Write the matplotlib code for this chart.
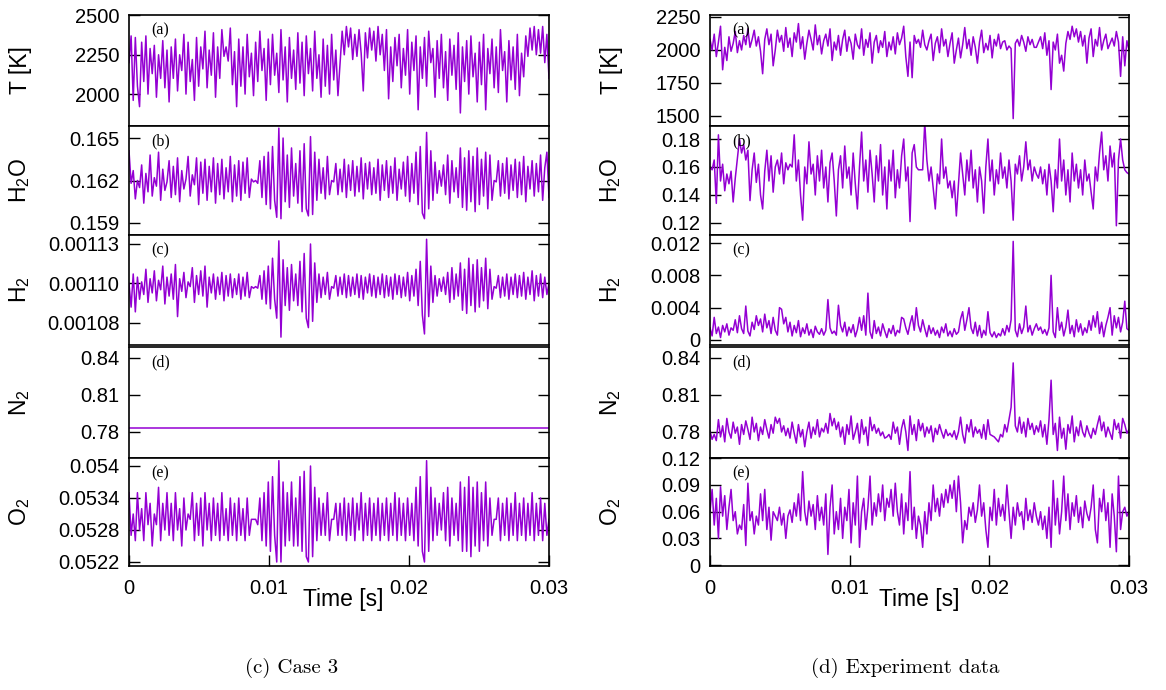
import numpy as np
import matplotlib
matplotlib.use('Agg')
import matplotlib.pyplot as plt

plt.rcParams['font.family'] = 'Liberation Sans'
plt.rcParams['mathtext.fontset'] = 'custom'
plt.rcParams['mathtext.rm'] = 'Liberation Sans'
plt.rcParams['mathtext.it'] = 'Liberation Sans:italic'

# ---- (c) Case 3 : simulation ----
T_case = [
    2200, 2370, 1960, 2360, 2050, 1920, 2330, 2080, 2370, 2000, 2290, 2130, 2310, 1980, 2250, 2100, 2340, 2040, 2280, 1950,
    2300, 2100, 2350, 2020, 2250, 2150, 2380, 2000, 2330, 2080, 2220, 1960, 2360, 2050, 2300, 2160, 2400, 2040, 2280, 2120,
    2390, 1980, 2300, 2100, 2410, 2240, 2300, 2210, 2420, 2060, 2270, 1920, 2350, 2050, 2300, 2000, 2380, 2110, 2260, 1990,
    2330, 2080, 2400, 2150, 2290, 1960, 2350, 2060, 2380, 2120, 2260, 2010, 2410, 2090, 2300, 1950, 2360, 2100, 2280, 2030,
    2390, 2070, 2330, 1990, 2370, 2130, 2290, 2020, 2400, 2100, 2250, 1980, 2350, 2050, 2310, 2000, 2380, 2090, 2280, 1990,
    2200, 2400, 2250, 2430, 2300, 2420, 2220, 2380, 2240, 2410, 2260, 2020, 2390, 2230, 2420, 2280, 2400, 2210, 2430, 2250,
    2380, 2150, 2410, 1970, 2300, 2080, 2360, 2180, 2380, 2040, 2290, 2120, 2410, 2000, 2330, 2150, 2370, 1900, 2300, 2100,
    2360, 2050, 2400, 2200, 2290, 1980, 2340, 2100, 2380, 2040, 2270, 1960, 2350, 2120, 2310, 2030, 2390, 1880, 2300, 2080,
    2340, 2000, 2370, 2110, 2260, 1950, 2330, 2060, 2380, 1900, 2290, 2130, 2350, 2040, 2300, 2010, 2410, 2150, 2270, 1950,
    2340, 2090, 2300, 2030, 2380, 1990, 2260, 2110, 2370, 2240, 2420, 2280, 2430, 2250, 2410, 2260, 2430, 2200, 2380, 2100,
]
h2o_case = [
    0.1641, 0.1618, 0.1627, 0.1607, 0.1620, 0.1615, 0.1631, 0.1604, 0.1625, 0.1612, 0.1638, 0.1609, 0.1622, 0.1616, 0.1640, 0.1606, 0.1628, 0.1613, 0.1619, 0.1634,
    0.1608, 0.1630, 0.1610, 0.1636, 0.1605, 0.1627, 0.1614, 0.1621, 0.1637, 0.1609, 0.1624, 0.1617, 0.1636, 0.1603, 0.1633, 0.1611, 0.1635, 0.1606, 0.1630, 0.1612,
    0.1636, 0.1604, 0.1632, 0.1610, 0.1635, 0.1607, 0.1629, 0.1612, 0.1637, 0.1605, 0.1631, 0.1609, 0.1634, 0.1606, 0.1633, 0.1611, 0.1636, 0.1608, 0.1621, 0.1619,
    0.1620, 0.1618, 0.1634, 0.1608, 0.1637, 0.1603, 0.1640, 0.1600, 0.1644, 0.1606, 0.1594, 0.1657, 0.1593, 0.1650, 0.1605, 0.1638, 0.1601, 0.1643, 0.1609, 0.1632,
    0.1604, 0.1641, 0.1598, 0.1646, 0.1600, 0.1595, 0.1651, 0.1596, 0.1640, 0.1606, 0.1635, 0.1611, 0.1629, 0.1607, 0.1637, 0.1610, 0.1620, 0.1619, 0.1632, 0.1610,
    0.1628, 0.1612, 0.1635, 0.1608, 0.1631, 0.1613, 0.1634, 0.1609, 0.1630, 0.1612, 0.1636, 0.1607, 0.1632, 0.1614, 0.1633, 0.1610, 0.1629, 0.1611, 0.1635, 0.1606,
    0.1631, 0.1613, 0.1634, 0.1608, 0.1630, 0.1611, 0.1636, 0.1606, 0.1628, 0.1614, 0.1633, 0.1609, 0.1637, 0.1605, 0.1632, 0.1611, 0.1640, 0.1603, 0.1644, 0.1597,
    0.1593, 0.1654, 0.1600, 0.1641, 0.1606, 0.1633, 0.1611, 0.1627, 0.1616, 0.1631, 0.1610, 0.1638, 0.1604, 0.1634, 0.1612, 0.1629, 0.1608, 0.1643, 0.1601, 0.1636,
    0.1599, 0.1641, 0.1605, 0.1637, 0.1598, 0.1643, 0.1603, 0.1635, 0.1609, 0.1640, 0.1600, 0.1638, 0.1606, 0.1620, 0.1619, 0.1634, 0.1609, 0.1632, 0.1611, 0.1636,
    0.1607, 0.1631, 0.1613, 0.1635, 0.1608, 0.1633, 0.1610, 0.1637, 0.1605, 0.1630, 0.1614, 0.1634, 0.1609, 0.1632, 0.1612, 0.1638, 0.1606, 0.1629, 0.1640, 0.1608,
]
h2_case = [
    0.001100, 0.001085, 0.001106, 0.001082, 0.001104, 0.001090, 0.001101, 0.001093, 0.001109, 0.001088, 0.001103, 0.001094, 0.001108, 0.001089, 0.001102, 0.001096, 0.001111, 0.001087, 0.001104, 0.001092,
    0.001106, 0.001090, 0.001112, 0.001079, 0.001103, 0.001095, 0.001107, 0.001091, 0.001101, 0.001098, 0.001110, 0.001088, 0.001105, 0.001093, 0.001108, 0.001092, 0.001111, 0.001085, 0.001104, 0.001094,
    0.001106, 0.001090, 0.001104, 0.001093, 0.001107, 0.001089, 0.001105, 0.001092, 0.001106, 0.001091, 0.001103, 0.001093, 0.001106, 0.001090, 0.001104, 0.001092, 0.001107, 0.001091, 0.001098, 0.001097,
    0.001098, 0.001097, 0.001105, 0.001090, 0.001108, 0.001087, 0.001111, 0.001084, 0.001116, 0.001090, 0.001078, 0.001127, 0.001066, 0.001115, 0.001086, 0.001110, 0.001083, 0.001112, 0.001089, 0.001106,
    0.001086, 0.001114, 0.001082, 0.001119, 0.001078, 0.001072, 0.001125, 0.001076, 0.001113, 0.001088, 0.001106, 0.001091, 0.001104, 0.001093, 0.001107, 0.001090, 0.001098, 0.001097, 0.001105, 0.001092,
    0.001104, 0.001093, 0.001106, 0.001091, 0.001105, 0.001092, 0.001104, 0.001093, 0.001106, 0.001091, 0.001105, 0.001090, 0.001104, 0.001094, 0.001106, 0.001092, 0.001105, 0.001091, 0.001104, 0.001093,
    0.001106, 0.001091, 0.001105, 0.001092, 0.001104, 0.001090, 0.001106, 0.001093, 0.001105, 0.001091, 0.001104, 0.001092, 0.001107, 0.001089, 0.001105, 0.001092, 0.001109, 0.001086, 0.001114, 0.001080,
    0.001068, 0.001128, 0.001079, 0.001111, 0.001088, 0.001105, 0.001092, 0.001103, 0.001095, 0.001104, 0.001093, 0.001107, 0.001088, 0.001110, 0.001090, 0.001106, 0.001092, 0.001113, 0.001083, 0.001109,
    0.001081, 0.001116, 0.001086, 0.001112, 0.001082, 0.001115, 0.001085, 0.001110, 0.001089, 0.001116, 0.001084, 0.001109, 0.001090, 0.001098, 0.001097, 0.001105, 0.001091, 0.001104, 0.001092, 0.001106,
    0.001090, 0.001104, 0.001093, 0.001106, 0.001091, 0.001105, 0.001092, 0.001107, 0.001090, 0.001104, 0.001093, 0.001108, 0.001089, 0.001105, 0.001092, 0.001106, 0.001091, 0.001104, 0.001093, 0.001100,
]
n2_case = [0.7832, 0.7832]
o2_case = [
    0.0535, 0.0527, 0.0531, 0.0526, 0.0535, 0.0528, 0.0532, 0.0526, 0.0535, 0.0529, 0.0533, 0.0525, 0.0531, 0.0529, 0.0536, 0.0526, 0.0533, 0.0528, 0.0535, 0.0527,
    0.0533, 0.0526, 0.0535, 0.0528, 0.0532, 0.0525, 0.0534, 0.0528, 0.0531, 0.0530, 0.0535, 0.0526, 0.0533, 0.0527, 0.0534, 0.0525, 0.0535, 0.0528, 0.0533, 0.0526,
    0.0534, 0.0527, 0.0533, 0.0526, 0.0535, 0.0527, 0.0532, 0.0526, 0.0534, 0.0527, 0.0533, 0.0526, 0.0534, 0.0527, 0.0532, 0.0526, 0.0534, 0.0527, 0.0530, 0.0530,
    0.0530, 0.0529, 0.0534, 0.0526, 0.0535, 0.0525, 0.0537, 0.0524, 0.0538, 0.0527, 0.0522, 0.0541, 0.0522, 0.0537, 0.0525, 0.0535, 0.0526, 0.0537, 0.0525, 0.0534,
    0.0525, 0.0538, 0.0524, 0.0539, 0.0523, 0.0522, 0.0540, 0.0523, 0.0536, 0.0526, 0.0534, 0.0527, 0.0533, 0.0527, 0.0535, 0.0526, 0.0530, 0.0530, 0.0533, 0.0527,
    0.0533, 0.0527, 0.0534, 0.0526, 0.0533, 0.0527, 0.0534, 0.0526, 0.0533, 0.0528, 0.0535, 0.0526, 0.0533, 0.0527, 0.0534, 0.0526, 0.0533, 0.0527, 0.0534, 0.0526,
    0.0533, 0.0527, 0.0534, 0.0526, 0.0533, 0.0527, 0.0535, 0.0526, 0.0534, 0.0527, 0.0533, 0.0526, 0.0534, 0.0527, 0.0533, 0.0526, 0.0536, 0.0525, 0.0538, 0.0524,
    0.0522, 0.0541, 0.0524, 0.0536, 0.0526, 0.0534, 0.0527, 0.0533, 0.0528, 0.0535, 0.0526, 0.0536, 0.0525, 0.0534, 0.0527, 0.0533, 0.0526, 0.0537, 0.0524, 0.0536,
    0.0524, 0.0538, 0.0523, 0.0536, 0.0525, 0.0537, 0.0524, 0.0535, 0.0526, 0.0537, 0.0525, 0.0534, 0.0527, 0.0530, 0.0530, 0.0534, 0.0526, 0.0533, 0.0527, 0.0534,
    0.0526, 0.0533, 0.0527, 0.0535, 0.0526, 0.0533, 0.0527, 0.0534, 0.0526, 0.0533, 0.0527, 0.0535, 0.0526, 0.0533, 0.0527, 0.0534, 0.0526, 0.0533, 0.0527, 0.0530,
]

# ---- (d) Experiment data ----
T_exp = [
    2080, 2000, 2120, 1950, 2060, 2180, 1850, 2020, 1920, 2100, 1990, 2050, 2140, 1980, 2070, 2000, 2110, 2040, 2160, 2020,
    2080, 2150, 2030, 2100, 1990, 1820, 2080, 2160, 2040, 2120, 1880, 2000, 2150, 2060, 2110, 1990, 2170, 2020, 2090, 1950,
    2130, 2060, 2200, 2010, 2100, 1930, 2050, 2150, 2080, 2000, 2190, 2040, 2110, 1970, 2070, 2120, 2030, 2160, 1920, 2060,
    2000, 2110, 1960, 2080, 2150, 1990, 2100, 2050, 1930, 2120, 2040, 2010, 2160, 1960, 2080, 2020, 2130, 1900, 2060, 2110,
    1980, 2070, 2020, 2140, 1950, 2060, 2000, 2100, 1970, 2130, 2040, 2090, 2180, 1950, 1800, 2060, 1790, 2110, 2050, 2080,
    2020, 2150, 2040, 2000, 2070, 2120, 1920, 2050, 2100, 1980, 2160, 2030, 2080, 1950, 2050, 2130, 1900, 2000, 2090, 1940,
    2040, 2170, 2010, 2080, 1960, 2100, 2020, 1900, 2060, 2150, 1980, 2050, 2000, 2110, 1940, 2080, 2030, 2120, 2010, 2060,
    2070, 2000, 2030, 2010, 1480, 2050, 2080, 2030, 2110, 2060, 1990, 2100, 2040, 2080, 2020, 2020, 2060, 2100, 2010, 2130,
    1960, 2070, 1700, 2060, 2000, 2120, 1900, 1960, 1840, 2050, 2140, 2080, 2180, 2100, 2160, 2060, 2140, 2030, 2110, 1900,
    2090, 2160, 1950, 2080, 2030, 2170, 2000, 2070, 2120, 2010, 2050, 2090, 2030, 2140, 2060, 1800, 2100, 1880, 2070, 2000,
]
h2o_exp = [
    0.160, 0.158, 0.165, 0.134, 0.183, 0.150, 0.162, 0.143, 0.155, 0.148, 0.157, 0.135, 0.152, 0.166, 0.180, 0.170, 0.176, 0.165, 0.172, 0.136,
    0.158, 0.170, 0.149, 0.162, 0.140, 0.130, 0.157, 0.172, 0.150, 0.168, 0.142, 0.160, 0.165, 0.155, 0.170, 0.148, 0.163, 0.158, 0.162, 0.160,
    0.183, 0.150, 0.165, 0.140, 0.122, 0.160, 0.148, 0.178, 0.155, 0.162, 0.140, 0.168, 0.150, 0.172, 0.145, 0.160, 0.135, 0.163, 0.170, 0.150,
    0.125, 0.158, 0.168, 0.145, 0.175, 0.152, 0.160, 0.140, 0.170, 0.148, 0.130, 0.160, 0.185, 0.150, 0.165, 0.142, 0.172, 0.155, 0.135, 0.168,
    0.150, 0.176, 0.140, 0.160, 0.130, 0.165, 0.150, 0.172, 0.138, 0.158, 0.145, 0.168, 0.180, 0.150, 0.160, 0.121, 0.170, 0.176, 0.160, 0.158,
    0.158, 0.158, 0.192, 0.165, 0.150, 0.160, 0.145, 0.130, 0.155, 0.148, 0.180, 0.152, 0.160, 0.145, 0.150, 0.138, 0.150, 0.125, 0.148, 0.170,
    0.155, 0.140, 0.165, 0.150, 0.172, 0.145, 0.158, 0.135, 0.160, 0.150, 0.127, 0.160, 0.180, 0.150, 0.165, 0.140, 0.158, 0.148, 0.170, 0.152,
    0.160, 0.145, 0.165, 0.150, 0.122, 0.162, 0.155, 0.168, 0.150, 0.160, 0.178, 0.158, 0.165, 0.150, 0.160, 0.155, 0.152, 0.160, 0.148, 0.158,
    0.140, 0.162, 0.150, 0.128, 0.158, 0.145, 0.180, 0.150, 0.165, 0.140, 0.158, 0.135, 0.170, 0.150, 0.162, 0.145, 0.158, 0.140, 0.165, 0.150,
    0.155, 0.142, 0.130, 0.160, 0.150, 0.170, 0.185, 0.158, 0.168, 0.150, 0.175, 0.160, 0.170, 0.118, 0.165, 0.180, 0.165, 0.158, 0.156, 0.155,
]
h2_exp = [
    0.0015, 0.0005, 0.0028, 0.0008, 0.0016, 0.0003, 0.0018, 0.0010, 0.0020, 0.0006, 0.0015, 0.0012, 0.0025, 0.0009, 0.0030, 0.0014, 0.0008, 0.0042, 0.0011, 0.0005,
    0.0022, 0.0013, 0.0030, 0.0018, 0.0026, 0.0010, 0.0032, 0.0015, 0.0024, 0.0008, 0.0028, 0.0012, 0.0006, 0.0040, 0.0038, 0.0020, 0.0028, 0.0010, 0.0022, 0.0005,
    0.0018, 0.0009, 0.0024, 0.0004, 0.0015, 0.0008, 0.0020, 0.0006, 0.0013, 0.0003, 0.0017, 0.0010, 0.0007, 0.0014, 0.0006, 0.0012, 0.0050, 0.0015, 0.0008, 0.0011,
    0.0006, 0.0043, 0.0018, 0.0010, 0.0022, 0.0005, 0.0016, 0.0009, 0.0019, 0.0004, 0.0013, 0.0028, 0.0012, 0.0030, 0.0006, 0.0058, 0.0010, 0.0002, 0.0024, 0.0008,
    0.0016, 0.0005, 0.0020, 0.0011, 0.0003, 0.0014, 0.0008, 0.0018, 0.0005, 0.0012, 0.0009, 0.0028, 0.0026, 0.0015, 0.0007, 0.0020, 0.0030, 0.0012, 0.0040, 0.0018,
    0.0010, 0.0025, 0.0014, 0.0004, 0.0018, 0.0008, 0.0015, 0.0006, 0.0012, 0.0003, 0.0016, 0.0009, 0.0020, 0.0005, 0.0011, 0.0004, 0.0014, 0.0007, 0.0010, 0.0026,
    0.0035, 0.0012, 0.0025, 0.0040, 0.0015, 0.0008, 0.0022, 0.0005, 0.0018, 0.0003, 0.0012, 0.0006, 0.0035, 0.0009, 0.0004, 0.0010, 0.0003, 0.0008, 0.0005, 0.0014,
    0.0006, 0.0018, 0.0010, 0.0025, 0.0122, 0.0012, 0.0004, 0.0020, 0.0008, 0.0016, 0.0042, 0.0010, 0.0018, 0.0006, 0.0014, 0.0020, 0.0012, 0.0016, 0.0008, 0.0013,
    0.0006, 0.0015, 0.0080, 0.0010, 0.0003, 0.0040, 0.0012, 0.0022, 0.0005, 0.0016, 0.0037, 0.0008, 0.0018, 0.0004, 0.0025, 0.0010, 0.0020, 0.0006, 0.0015, 0.0009,
    0.0024, 0.0012, 0.0030, 0.0016, 0.0035, 0.0008, 0.0022, 0.0004, 0.0018, 0.0028, 0.0040, 0.0006, 0.0030, 0.0015, 0.0028, 0.0010, 0.0022, 0.0048, 0.0014, 0.0012,
]
n2_exp = [
    0.781, 0.774, 0.778, 0.773, 0.790, 0.776, 0.785, 0.772, 0.791, 0.780, 0.775, 0.788, 0.779, 0.784, 0.770, 0.786, 0.778, 0.789, 0.782, 0.774,
    0.792, 0.780, 0.787, 0.773, 0.784, 0.778, 0.790, 0.782, 0.775, 0.786, 0.779, 0.792, 0.787, 0.791, 0.780, 0.785, 0.777, 0.783, 0.775, 0.788,
    0.779, 0.771, 0.786, 0.776, 0.782, 0.768, 0.780, 0.788, 0.775, 0.784, 0.778, 0.790, 0.776, 0.783, 0.780, 0.787, 0.779, 0.795, 0.785, 0.791,
    0.782, 0.788, 0.776, 0.784, 0.770, 0.786, 0.778, 0.793, 0.774, 0.780, 0.787, 0.771, 0.790, 0.778, 0.784, 0.769, 0.792, 0.781, 0.786, 0.779,
    0.783, 0.777, 0.780, 0.775, 0.776, 0.778, 0.774, 0.788, 0.779, 0.784, 0.770, 0.783, 0.790, 0.780, 0.765, 0.793, 0.778, 0.786, 0.773, 0.790,
    0.781, 0.787, 0.776, 0.784, 0.779, 0.785, 0.772, 0.783, 0.778, 0.786, 0.780, 0.775, 0.782, 0.777, 0.779, 0.776, 0.781, 0.774, 0.780, 0.792,
    0.778, 0.771, 0.786, 0.780, 0.790, 0.776, 0.784, 0.779, 0.782, 0.775, 0.786, 0.774, 0.790, 0.778, 0.777, 0.776, 0.774, 0.772, 0.778, 0.776,
    0.786, 0.780, 0.790, 0.800, 0.836, 0.785, 0.780, 0.792, 0.779, 0.788, 0.776, 0.791, 0.782, 0.787, 0.778, 0.785, 0.780, 0.789, 0.776, 0.786,
    0.770, 0.790, 0.822, 0.778, 0.787, 0.765, 0.792, 0.775, 0.783, 0.766, 0.786, 0.779, 0.793, 0.772, 0.784, 0.777, 0.789, 0.780, 0.776, 0.785,
    0.779, 0.775, 0.783, 0.778, 0.786, 0.793, 0.781, 0.788, 0.776, 0.784, 0.779, 0.774, 0.790, 0.782, 0.787, 0.775, 0.791, 0.786, 0.779, 0.782,
]
o2_exp = [
    0.060, 0.085, 0.045, 0.075, 0.030, 0.088, 0.055, 0.078, 0.040, 0.065, 0.085, 0.050, 0.060, 0.035, 0.045, 0.040, 0.068, 0.022, 0.092, 0.050,
    0.060, 0.035, 0.055, 0.045, 0.080, 0.050, 0.085, 0.040, 0.065, 0.028, 0.060, 0.055, 0.050, 0.065, 0.045, 0.058, 0.030, 0.055, 0.062, 0.048,
    0.070, 0.055, 0.080, 0.050, 0.105, 0.060, 0.045, 0.072, 0.055, 0.068, 0.040, 0.078, 0.050, 0.065, 0.045, 0.080, 0.012, 0.065, 0.090, 0.035,
    0.060, 0.040, 0.075, 0.030, 0.065, 0.050, 0.085, 0.025, 0.070, 0.045, 0.100, 0.020, 0.060, 0.075, 0.040, 0.065, 0.100, 0.045, 0.070, 0.055,
    0.080, 0.060, 0.090, 0.050, 0.075, 0.065, 0.085, 0.055, 0.092, 0.060, 0.045, 0.080, 0.035, 0.070, 0.050, 0.105, 0.040, 0.065, 0.030, 0.055,
    0.045, 0.020, 0.060, 0.035, 0.070, 0.050, 0.090, 0.060, 0.075, 0.055, 0.080, 0.065, 0.085, 0.070, 0.090, 0.075, 0.095, 0.060, 0.100, 0.070,
    0.025, 0.050, 0.040, 0.065, 0.055, 0.070, 0.048, 0.062, 0.090, 0.055, 0.070, 0.040, 0.020, 0.065, 0.050, 0.085, 0.045, 0.075, 0.055, 0.068,
    0.050, 0.090, 0.060, 0.030, 0.065, 0.045, 0.070, 0.055, 0.060, 0.040, 0.075, 0.050, 0.062, 0.048, 0.070, 0.055, 0.045, 0.060, 0.040, 0.055,
    0.030, 0.065, 0.020, 0.095, 0.045, 0.075, 0.035, 0.060, 0.100, 0.050, 0.080, 0.040, 0.070, 0.055, 0.078, 0.048, 0.065, 0.042, 0.072, 0.058,
    0.050, 0.065, 0.090, 0.040, 0.025, 0.075, 0.060, 0.085, 0.050, 0.070, 0.020, 0.080, 0.055, 0.015, 0.100, 0.040, 0.060, 0.065, 0.055, 0.060,
]

ylabels = ['T [K]', 'H$_2$O', 'H$_2$', 'N$_2$', 'O$_2$']
tags = ['(a)', '(b)', '(c)', '(d)', '(e)']
x_ticks = [0, 0.01, 0.02, 0.03]
x_ticklabels = ['0', '0.01', '0.02', '0.03']

case_series = [T_case, h2o_case, h2_case, n2_case, o2_case]
case_ylims = [(1797, 2503), (0.15815, 0.16585), (0.001061, 0.0011307), (0.7589, 0.8489), (0.052125, 0.05415)]
case_yticks = [[2000, 2250, 2500], [0.159, 0.162, 0.165], [0.001075, 0.0011, 0.001125],
               [0.78, 0.81, 0.84], [0.0522, 0.0528, 0.0534, 0.054]]
case_ytlabels = [['2000', '2250', '2500'], ['0.159', '0.162', '0.165'], ['0.00108', '0.00110', '0.00113'],
                 ['0.78', '0.81', '0.84'], ['0.0522', '0.0528', '0.0534', '0.054']]

exp_series = [T_exp, h2o_exp, h2_exp, n2_exp, o2_exp]
exp_ylims = [(1424, 2265), (0.1114, 0.1893), (-0.00062, 0.01299), (0.7589, 0.8489), (-0.001, 0.1203)]
exp_yticks = [[1500, 1750, 2000, 2250], [0.12, 0.14, 0.16, 0.18], [0, 0.004, 0.008, 0.012],
              [0.78, 0.81, 0.84], [0, 0.03, 0.06, 0.09, 0.12]]
exp_ytlabels = [['1500', '1750', '2000', '2250'], ['0.12', '0.14', '0.16', '0.18'], ['0', '0.004', '0.008', '0.012'],
                ['0.78', '0.81', '0.84'], ['0', '0.03', '0.06', '0.09', '0.12']]

purple = '#9400d3'
W, H = 1166, 690
fig = plt.figure(figsize=(W / 100, H / 100), dpi=100)

# pixel layout of the panels (top, bottom) and columns (left, right)
rows = [(15, 126), (126, 235), (235, 345), (347, 458), (458, 566)]
cols = [(129, 549), (710, 1129)]
label_x = [-0.231, -0.208]
xlabel_x = [0.51, 0.50]

panels = [(case_series, case_ylims, case_yticks, case_ytlabels),
          (exp_series, exp_ylims, exp_yticks, exp_ytlabels)]

for c, (series, ylims, yticks, ytlabels) in enumerate(panels):
    x0, x1 = cols[c]
    for r in range(5):
        y0, y1 = rows[r]
        ax = fig.add_axes([x0 / W, 1 - y1 / H, (x1 - x0) / W, (y1 - y0) / H])
        vals = series[r]
        t = np.linspace(0, 0.03, len(vals))
        ax.plot(t, vals, color=purple, lw=1.1)
        ax.set_xlim(0, 0.03)
        ax.set_ylim(*ylims[r])
        ax.set_yticks(yticks[r])
        ax.set_yticklabels(ytlabels[r])
        ax.set_xticks(x_ticks)
        ax.set_xticklabels(x_ticklabels)
        last = (r == 4)
        ax.tick_params(axis='y', direction='in', left=True, right=True, length=8, width=1,
                       labelsize=14.5, pad=7)
        ax.tick_params(axis='x', direction='in', bottom=last, top=False, labelbottom=last,
                       length=8, width=1, labelsize=14.5, pad=9)
        for s in ax.spines.values():
            s.set_linewidth(1.2)
        ax.set_ylabel(ylabels[r], fontsize=16.5)
        ax.yaxis.set_label_coords(label_x[c], 0.5)
        ax.text(22 / (x1 - x0), 1 - 15 / (y1 - y0), tags[r], transform=ax.transAxes,
                family='Liberation Serif', fontsize=11.5, ha='left', va='center')
        if last:
            ax.set_xlabel('Time [s]', fontsize=16.5)
            ax.xaxis.set_label_coords(xlabel_x[c], -0.204)

fig.text(292 / W, 1 - 668 / H, '(c) Case 3', family='cmr10', fontsize=15, ha='center', va='center')
fig.text(905 / W, 1 - 668 / H, '(d) Experiment data', family='cmr10', fontsize=15, ha='center', va='center')

fig.savefig('out.png', dpi=100)
